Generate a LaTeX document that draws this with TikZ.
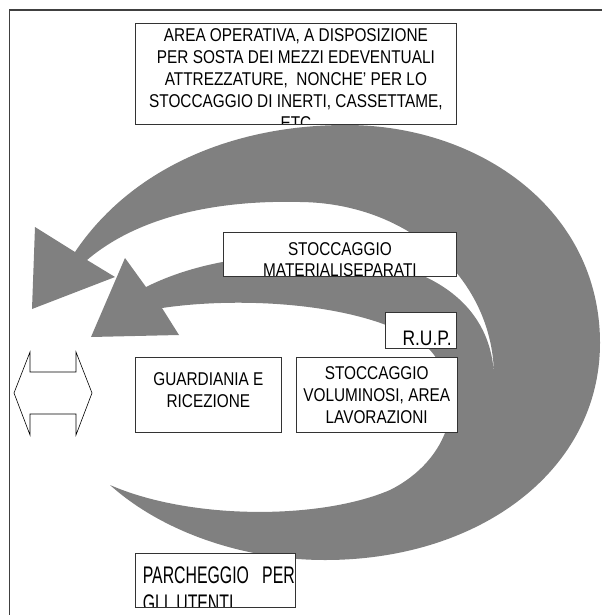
\documentclass[tikz,border=0pt]{standalone}
\usepackage{fontspec}
\newfontfamily\boxfont[FakeStretch=0.83]{Liberation Sans}
\newfontfamily\parkfont[FakeStretch=0.66]{Liberation Sans}
\usetikzlibrary{positioning}

\begin{document}
\begin{tikzpicture}[x=1pt,y=-1pt,line join=miter,
  box/.style={draw=black!80,line width=0.8pt,fill=white,inner sep=0pt,anchor=north west},
  boxtext/.style={font=\boxfont\fontsize{18.5}{22}\selectfont,align=center,inner sep=0pt},
  arrowgray/.style={fill=black!50}]
  \useasboundingbox (0,0) rectangle (602,615);

  % frame
  \draw[black!75,line width=1.2pt] (9.5,615) -- (9.5,10) -- (602,10);

  % gray curved arrows (outer and inner)
  \fill[arrowgray]
    (110,485) .. controls (160,530) and (240,560) .. (325,560)
    .. controls (480,560) and (600,470) .. (600,343)
    .. controls (600,210) and (480,125) .. (346,125)
    .. controls (230,125) and (130,170) .. (75,252)
    -- (35,227) -- (32,309) -- (115,277) -- (87,260)
    .. controls (140,215) and (220,200) .. (300,202)
    .. controls (410,203) and (494,280) .. (494,377)
    .. controls (492,310) and (440,262) .. (330,255)
    .. controls (250,252) and (190,265) .. (146,287)
    -- (125,258) -- (91,337) -- (179,335) -- (162,308)
    .. controls (250,295) and (380,305) .. (430,350)
    .. controls (470,395) and (450,460) .. (390,490)
    .. controls (320,520) and (190,520) .. (110,485) -- cycle;

  % boxes
  \node[box,minimum width=321pt,minimum height=101pt,
    path picture={\node[boxtext,anchor=north] at ([yshift=-5pt]path picture bounding box.north)
      {AREA OPERATIVA, A DISPOSIZIONE\\PER SOSTA DEI MEZZI EDEVENTUALI\\ATTREZZATURE,~ NONCHE’ PER LO\\STOCCAGGIO DI INERTI, CASSETTAME,\\ETC};}]
    (area) at (135,23) {};
  \node[box,minimum width=233pt,minimum height=44pt,
    path picture={\node[boxtext,font=\boxfont\fontsize{18.5}{21}\selectfont,anchor=north]
      at ([yshift=-5pt]path picture bounding box.north) {STOCCAGGIO\\MATERIALISEPARATI};}]
    (separati) at (223,232) {};
  \node[box,minimum width=71pt,minimum height=36pt] (rup) at (385,312) {};
  \node[boxtext,font=\boxfont\fontsize{21}{24}\selectfont,anchor=base east] (ruptext)
    at ([xshift=-5pt,yshift=3pt]rup.south east) {R.U.P.};
  \node[box,boxtext,minimum width=146pt,minimum height=75pt] (guardiania) at (135,357)
    {GUARDIANIA E\\RICEZIONE\rule[-10pt]{0pt}{10pt}};
  \node[box,boxtext,minimum width=161pt,minimum height=75pt,right=14pt of guardiania] (voluminosi)
    {STOCCAGGIO\\VOLUMINOSI, AREA\\LAVORAZIONI};
  \node[box,minimum width=160pt,minimum height=54pt,
    path picture={\node[font=\parkfont\fontsize{24}{28}\selectfont,align=left,text width=152pt,
      inner sep=0pt,anchor=north west] at ([xshift=3pt,yshift=-8pt]path picture bounding box.north west)
      {PARCHEGGIO\hfill PER\\GLI UTENTI};}]
    (parcheggio) at (135,553) {};

  % entrance double arrow
  \draw[line width=0.6pt] (14,393) -- (30,352) -- (30,372) -- (76,372) -- (76,352) -- (92,393)
    -- (76,435) -- (76,414) -- (30,414) -- (30,435) -- cycle;
\end{tikzpicture}
\end{document}
